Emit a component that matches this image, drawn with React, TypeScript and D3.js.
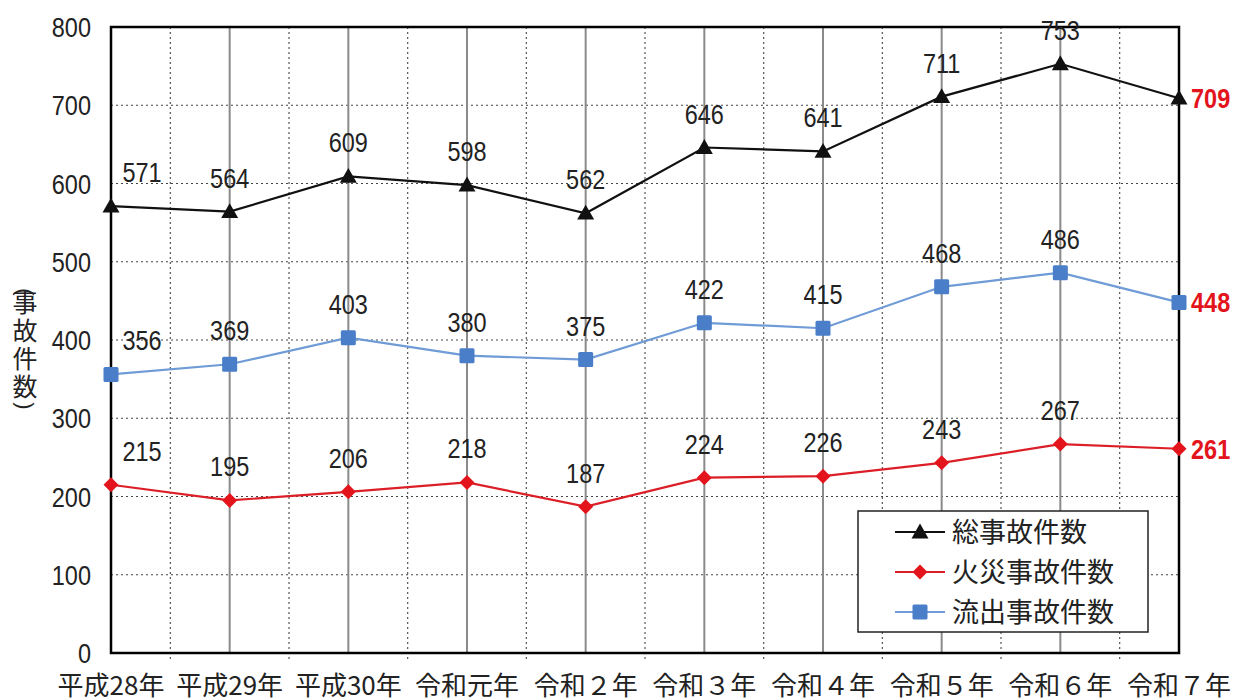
import React from "react";
import * as d3 from "d3";

const categories = ["平成28年", "平成29年", "平成30年", "令和元年", "令和２年", "令和３年", "令和４年", "令和５年", "令和６年", "令和７年"];
const totalAccidents = [571, 564, 609, 598, 562, 646, 641, 711, 753, 709];
const fireAccidents = [215, 195, 206, 218, 187, 224, 226, 243, 267, 261];
const leakAccidents = [356, 369, 403, 380, 375, 422, 415, 468, 486, 448];
const yTicks = [0, 100, 200, 300, 400, 500, 600, 700, 800];
const seriesNames = ["総事故件数", "火災事故件数", "流出事故件数"];
const yTitle = "事故件数";

const W = 1238, H = 699;
const M = { left: 111, right: 1179, top: 27, bottom: 653 };
const numFont = "'Liberation Sans', Arial, sans-serif";
const jpFont = "'Noto Sans CJK JP', sans-serif";

function NumText(props: { x: number; y: number; anchor?: string; fill?: string; bold?: boolean; children: any; size?: number }) {
  const { x, y, anchor = "middle", fill = "#222", bold = false, children, size = 28 } = props;
  return (
    <text x={0} y={0} textAnchor={anchor} fontFamily={numFont} fontSize={size} fontWeight={bold ? "bold" : "normal"} fill={fill}
      transform={`translate(${x},${y}) scale(0.84,1)`}>{children}</text>
  );
}

export default function App() {
  const x = d3.scalePoint<string>().domain(categories).range([M.left, M.right]);
  const y = d3.scaleLinear().domain([0, 800]).range([M.bottom, M.top]);
  const step = x.step();
  const line = d3.line<number>().x((_, i) => x(categories[i])!).y((d) => y(d));

  const series = [
    { name: seriesNames[0], data: totalAccidents, color: "#111", lineColor: "#111", marker: "tri" },
    { name: seriesNames[1], data: fireAccidents, color: "#e3141c", lineColor: "#dc1f27", marker: "dia" },
    { name: seriesNames[2], data: leakAccidents, color: "#4a7ec8", lineColor: "#6f9bd6", marker: "sq" },
  ];

  const marker = (type: string, cx: number, cy: number, color: string, key?: any) => {
    if (type === "tri") {
      const s = 8.5;
      return <path key={key} d={`M${cx},${cy - s}L${cx + s},${cy + s * 0.75}L${cx - s},${cy + s * 0.75}Z`} fill={color} />;
    }
    if (type === "dia") {
      const s = 7.5;
      return <path key={key} d={`M${cx},${cy - s}L${cx + s},${cy}L${cx},${cy + s}L${cx - s},${cy}Z`} fill={color} />;
    }
    const s = 7.5;
    return <rect key={key} x={cx - s} y={cy - s} width={s * 2} height={s * 2} rx={1.5} fill={color} />;
  };

  const last = categories.length - 1;

  return (
    <svg width={W} height={H} style={{ position: "absolute", left: 0, top: 0, background: "#fff" }}>
      <rect x={0} y={0} width={W} height={H} fill="#fff" />
      {/* horizontal dotted grid */}
      {yTicks.slice(1, -1).map((t) => (
        <line key={"h" + t} x1={M.left} x2={M.right} y1={y(t)} y2={y(t)} stroke="#444" strokeWidth={1.2} strokeDasharray="2,3" />
      ))}
      {/* minor vertical dotted lines */}
      {categories.slice(0, -1).map((c) => (
        <line key={"mv" + c} x1={x(c)! + step / 2} x2={x(c)! + step / 2} y1={M.top} y2={M.bottom + 6} stroke="#555" strokeWidth={1.2} strokeDasharray="2,3" />
      ))}
      {/* major vertical gray lines */}
      {categories.slice(1, -1).map((c) => (
        <line key={"v" + c} x1={x(c)} x2={x(c)} y1={M.top} y2={M.bottom} stroke="#8a8a8a" strokeWidth={2} />
      ))}
      {/* frame */}
      <rect x={M.left} y={M.top} width={M.right - M.left} height={M.bottom - M.top} fill="none" stroke="#000" strokeWidth={2.5} />

      {/* y ticks */}
      {yTicks.map((t) => (
        <NumText key={"yt" + t} x={91} y={y(t) + 10} anchor="end">{t}</NumText>
      ))}
      {/* y title */}
      <text x={0} y={0} textAnchor="middle" dominantBaseline="central" fontFamily={numFont} fontSize={22} fill="#222" transform="translate(25,292) rotate(90)">(</text>
      <text x={25} y={290} fontFamily={jpFont} fontSize={25} fill="#222" letterSpacing={3} style={{ writingMode: "vertical-rl" } as any}>{yTitle}</text>
      <text x={0} y={0} textAnchor="middle" dominantBaseline="central" fontFamily={numFont} fontSize={22} fill="#222" transform="translate(25,406) rotate(90)">)</text>
      {/* x labels */}
      {categories.map((c) => (
        <text key={"xl" + c} x={x(c)} y={695} textAnchor="middle" fontFamily={jpFont} fontSize={26} fill="#222">{c}</text>
      ))}

      {/* lines */}
      {series.map((s) => (
        <path key={"l" + s.name} d={line(s.data)!} fill="none" stroke={s.lineColor} strokeWidth={2.2} />
      ))}
      {series.map((s) => s.data.map((v, i) => marker(s.marker, x(categories[i])!, y(v), s.color, s.name + i)))}

      {/* value labels */}
      {series.map((s) => s.data.map((v, i) => {
        const cx = x(categories[i])!;
        const cy = y(v);
        if (i === last) {
          return <NumText key={"vl" + s.name + i} x={cx + 12} y={cy + 10} anchor="start" bold fill="#e3141c">{v}</NumText>;
        }
        return <NumText key={"vl" + s.name + i} x={cx + (i === 0 ? 31 : 0)} y={cy - 34 + 10}>{v}</NumText>;
      }))}

      {/* legend */}
      <rect x={858} y={511} width={290} height={121} fill="#fff" stroke="#222" strokeWidth={1.5} />
      {series.map((s, i) => {
        const ly = 532 + i * 40;
        return (
          <g key={"lg" + s.name}>
            <line x1={895} x2={945} y1={ly} y2={ly} stroke={s.lineColor} strokeWidth={2.2} />
            {marker(s.marker, 920, ly, s.color)}
            <text x={952} y={ly + 10} fontFamily={jpFont} fontSize={27} fill="#222">{s.name}</text>
          </g>
        );
      })}
    </svg>
  );
}
